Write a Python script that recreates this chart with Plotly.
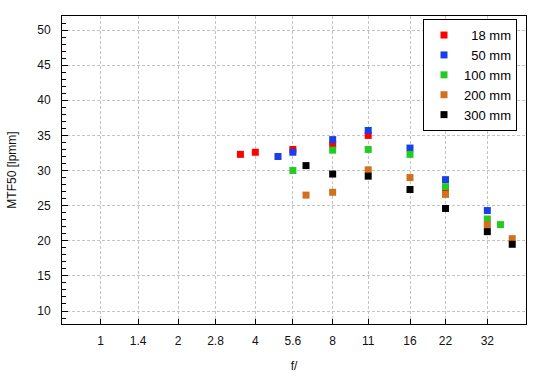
import math
import plotly.graph_objects as go

# f-number axis
tick_vals = [1, 1.4, 2, 2.8, 4, 5.6, 8, 11, 16, 22, 32]
tick_text = ["1", "1.4", "2", "2.8", "4", "5.6", "8", "11", "16", "22", "32"]

# series (aperture f-number, MTF50 in lpmm)
f_18 = [3.5, 4, 5.6, 8, 11, 22]
mtf_18 = [32.3, 32.6, 33.0, 33.7, 35.0, 27.2]

f_50 = [4.9, 5.6, 8, 11, 16, 22, 32]
mtf_50 = [32.0, 32.6, 34.4, 35.7, 33.2, 28.7, 24.3]

f_100 = [5.6, 8, 11, 16, 22, 32, 36]
mtf_100 = [30.0, 32.9, 33.0, 32.3, 27.7, 23.1, 22.3]

f_200 = [6.3, 8, 11, 16, 22, 32, 40]
mtf_200 = [26.5, 26.9, 30.1, 29.0, 26.6, 22.3, 20.3]

f_300 = [6.3, 8, 11, 16, 22, 32, 40]
mtf_300 = [30.7, 29.5, 29.2, 27.3, 24.6, 21.3, 19.5]

series = [
    ("\u200718 mm", f_18, mtf_18, "#ff0000"),
    ("\u200750 mm", f_50, mtf_50, "#1a3ee8"),
    ("100 mm", f_100, mtf_100, "#22cc22"),
    ("200 mm", f_200, mtf_200, "#d2701e"),
    ("300 mm", f_300, mtf_300, "#000000"),
]

fig = go.Figure()
for name, xs, ys, col in series:
    fig.add_trace(go.Scatter(
        x=xs, y=ys, mode="markers", name=name,
        marker=dict(symbol="square", size=7, color=col, line=dict(width=0)),
    ))

font_family = "Liberation Sans, Arial, sans-serif"
grid_col = "#c4c4c4"
fig.update_layout(
    width=550, height=380,
    margin=dict(l=62, r=24, t=16, b=56),
    paper_bgcolor="white", plot_bgcolor="white",
    font=dict(family=font_family, size=12, color="#111111"),
    showlegend=True,
    legend=dict(
        x=0.9806, y=0.99, xanchor="right", yanchor="top",
        bgcolor="white", bordercolor="black", borderwidth=1,
        font=dict(size=13, family=font_family, color="#000000"),
        itemwidth=30, tracegroupgap=0,
    ),
    xaxis=dict(
        type="log", automargin=False,
        range=[math.log10(1 / math.sqrt(2)), math.log10(32 * math.sqrt(2))],
        tickmode="array", tickvals=tick_vals, ticktext=tick_text,
        showgrid=True, gridcolor=grid_col, griddash="3px,2px", gridwidth=1,
        showline=True, linecolor="black", linewidth=1, mirror=True,
        ticks="inside", ticklen=5, tickcolor="black",
        ticklabelstandoff=6,
        zeroline=False,
        title=dict(text="f/", standoff=14, font=dict(size=12)),
    ),
    yaxis=dict(
        range=[8.15, 52.0], automargin=False,
        tickmode="array", tickvals=[10, 15, 20, 25, 30, 35, 40, 45, 50],
        showgrid=True, gridcolor=grid_col, griddash="3px,2px", gridwidth=1,
        showline=True, linecolor="black", linewidth=1, mirror=True,
        ticks="inside", ticklen=6, tickcolor="black",
        ticklabelstandoff=8,
        minor=dict(dtick=1, tick0=0, ticks="inside", ticklen=4, tickcolor="black", showgrid=False),
        zeroline=False,
        title=dict(text="MTF50 [lpmm]", standoff=18, font=dict(size=12)),
    ),
)

fig.write_html(
    "out.html",
    config={"displayModeBar": False},
    post_script="document.body.style.margin='0';document.body.style.overflow='hidden';",
)
